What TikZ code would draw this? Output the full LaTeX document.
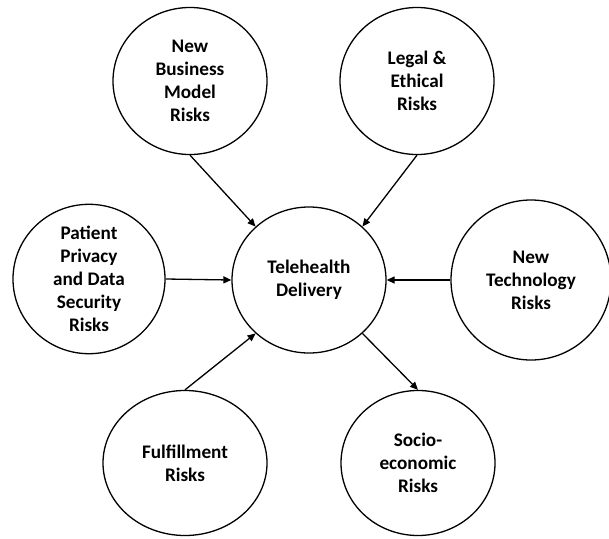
\documentclass[tikz,border=0pt]{standalone}
\usepackage{fontspec}
\setmainfont{Carlito}
\usetikzlibrary{shapes.geometric,arrows.meta}
\begin{document}
\begin{tikzpicture}[x=1pt,y=-1pt,
  bubble/.style={draw=black,line width=1.3pt,shape=ellipse,inner sep=0pt,
    align=center,font=\fontsize{19.2}{23}\selectfont\bfseries,text=black},
  link/.style={draw=black,line width=1.3pt,-{Triangle[length=8pt,width=7pt]}}]
\useasboundingbox (0,0) rectangle (609,538);
\fill[white] (0,0) rectangle (609,538);
\node[bubble,minimum width=154pt,minimum height=146pt] (center) at (309,280) {Telehealth\\Delivery};
\node[bubble,minimum width=154pt,minimum height=147pt] (biz) at (190,81) {New\\Business\\Model\\Risks};
\node[bubble,minimum width=154pt,minimum height=147pt] (legal) at (417,81) {Legal \&\\Ethical\\Risks};
\node[bubble,minimum width=152pt,minimum height=148pt] (privacy) at (89,279) {Patient\\Privacy\\and Data\\Security\\Risks};
\node[bubble,minimum width=160pt,minimum height=160pt] (tech) at (531,280) {New\\Technology\\Risks};
\node[bubble,minimum width=164pt,minimum height=145pt] (fulfil) at (185,463) {Fulfillment\\Risks};
\node[bubble,minimum width=154pt,minimum height=145pt] (socio) at (418,463) {Socio-\\economic\\Risks};
\draw[link] (biz.south) -- (center.135);
\draw[link] (legal.south) -- (center.45);
\draw[link] (privacy.east) -- (center.west);
\draw[link] (tech.west) -- (center.east);
\draw[link] (fulfil.north) -- (center.225);
\draw[link] (center.315) -- (socio.north);
\end{tikzpicture}
\end{document}
